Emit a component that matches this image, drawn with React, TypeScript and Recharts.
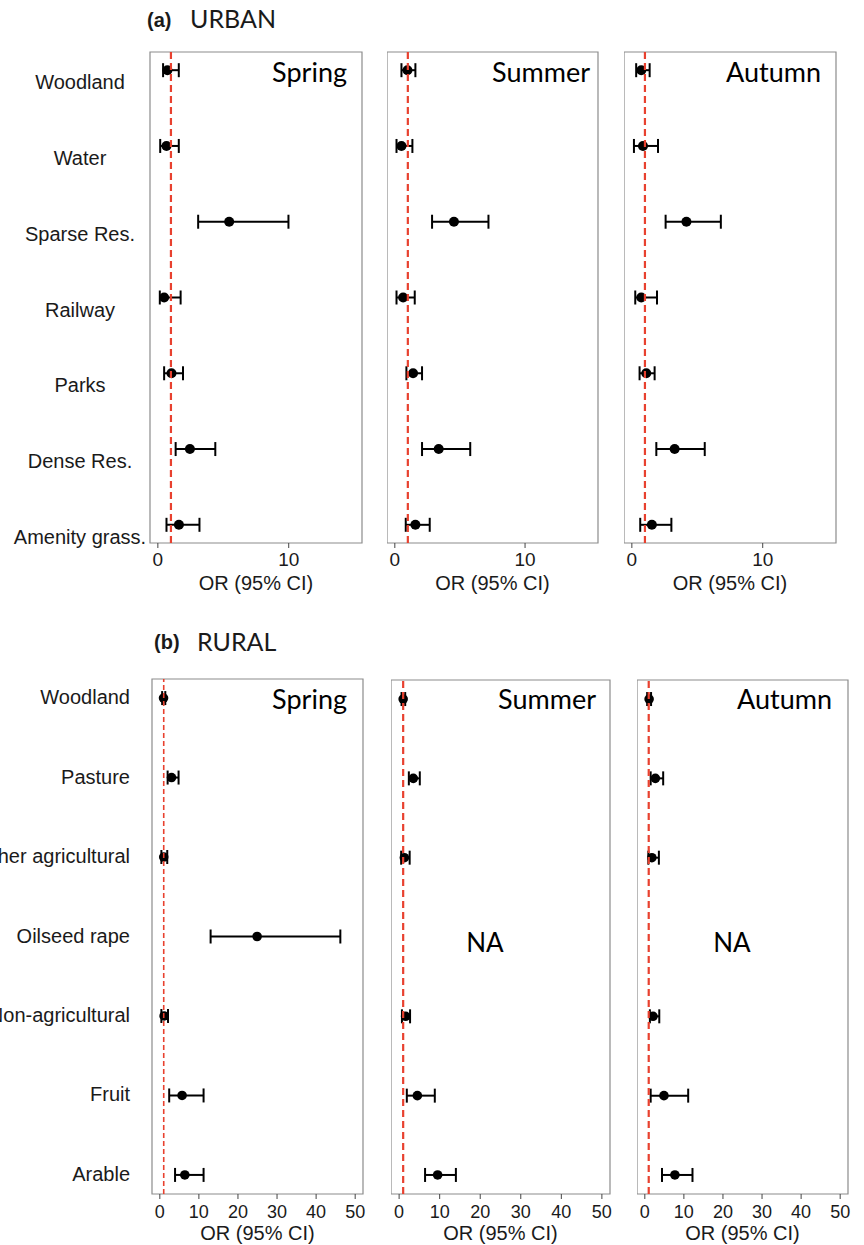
import React from 'react';
import { ScatterChart, Scatter, XAxis, YAxis, ErrorBar, ReferenceLine, ReferenceArea } from 'recharts';

// ---------- DATA ----------
const urbanCategories = ['Woodland', 'Water', 'Sparse Res.', 'Railway', 'Parks', 'Dense Res.', 'Amenity grass.'];
const ruralCategories = ['Woodland', 'Pasture', 'Other agricultural', 'Oilseed rape', 'Non-agricultural', 'Fruit', 'Arable'];
const seasons = ['Spring', 'Summer', 'Autumn'];

const urbanXTicks = [0, 10];
const ruralXTicks = [0, 10, 20, 30, 40, 50];

const urbanSpringOR = [0.73, 0.66, 5.45, 0.48, 1.04, 2.45, 1.61];
const urbanSpringLower = [0.4, 0.18, 3.08, 0.15, 0.48, 1.36, 0.66];
const urbanSpringUpper = [1.6, 1.6, 9.98, 1.74, 1.92, 4.39, 3.18];

const urbanSummerOR = [0.97, 0.51, 4.54, 0.64, 1.4, 3.37, 1.58];
const urbanSummerLower = [0.51, 0.13, 2.86, 0.13, 0.89, 2.09, 0.84];
const urbanSummerUpper = [1.58, 1.35, 7.19, 1.53, 2.09, 5.79, 2.68];

const urbanAutumnOR = [0.72, 0.85, 4.17, 0.72, 1.1, 3.27, 1.53];
const urbanAutumnLower = [0.33, 0.16, 2.58, 0.26, 0.59, 1.87, 0.64];
const urbanAutumnUpper = [1.36, 2.0, 6.8, 1.92, 1.74, 5.57, 3.02];

const ruralSpringOR = [0.95, 3.0, 1.0, 24.9, 1.1, 5.7, 6.4];
const ruralSpringLower = [0.6, 2.0, 0.4, 13.0, 0.4, 2.4, 3.9];
const ruralSpringUpper = [1.4, 4.8, 1.9, 46.2, 2.1, 11.2, 11.2];

const ruralSummerOR = [1.0, 3.5, 1.3, null, 1.6, 4.5, 9.5];
const ruralSummerLower = [0.6, 2.4, 0.5, null, 0.7, 1.9, 6.4];
const ruralSummerUpper = [1.5, 5.1, 2.6, null, 2.7, 8.8, 14.0];

const ruralAutumnOR = [1.1, 2.7, 1.8, null, 2.1, 4.9, 7.7];
const ruralAutumnLower = [0.6, 1.5, 0.9, null, 1.3, 1.5, 4.4];
const ruralAutumnUpper = [1.6, 4.7, 3.6, null, 3.7, 11.1, 12.2];

// ---------- HELPERS ----------
const FONT = 'Liberation Sans, Arial, Helvetica, sans-serif';
const SEASON_FONT = 'Lato, "Open Sans", sans-serif';
const RED = '#e8412f';
const BOX = '#8c8c8c';
const Y_DOMAIN: [number, number] = [0.76, 7.24];
const ROW_TICKS = [1, 2, 3, 4, 5, 6, 7];

function buildRows(or: (number | null)[], lo: (number | null)[], hi: (number | null)[]) {
  const out: any[] = [];
  or.forEach((v, i) => {
    if (v == null) return;
    out.push({ row: i + 1, or: v, err: [v - (lo[i] as number), (hi[i] as number) - v] });
  });
  return out;
}

type Box = { left: number; right: number; top: number; bottom: number };

function Panel(props: {
  box: Box;
  domainX: [number, number];
  ticks: number[];
  data: any[];
  categories: string[];
  labelMode: 'center' | 'end' | null;
  refWidth: number;
  dash: string;
  tickFont: number;
  tickMargin: number;
  labelOffset: number;
  dotR: number;
}) {
  const { box, domainX, ticks, data, categories, labelMode, refWidth, dash, tickFont, tickMargin, labelOffset, dotR } = props;
  const yW = labelMode ? box.left : 0;
  const mt = 10;
  const mr = 10;
  const xH = 60;
  const chartLeft = box.left - yW;
  const width = yW + (box.right - box.left) + mr;
  const height = mt + (box.bottom - box.top) + xH;

  const renderYTick = (p: any) => {
    const name = categories[p.payload.value - 1];
    if (labelMode === 'center') {
      return (
        <text x={80 - chartLeft} y={p.y + 12} textAnchor="middle" dominantBaseline="central" fontSize={20} fontFamily={FONT} fill="#1a1a1a">
          {name}
        </text>
      );
    }
    return (
      <text x={130 - chartLeft} y={p.y - 1} textAnchor="end" dominantBaseline="central" fontSize={20} fontFamily={FONT} fill="#1a1a1a">
        {name}
      </text>
    );
  };

  const renderDot = (p: any) => <circle cx={p.cx} cy={p.cy} r={dotR} fill="#000" />;

  return (
    <div style={{ position: 'absolute', left: chartLeft, top: box.top - mt }}>
      <ScatterChart width={width} height={height} margin={{ top: mt, right: mr, left: 0, bottom: 0 }}>
        <XAxis
          type="number"
          dataKey="or"
          domain={domainX}
          ticks={ticks}
          interval={0}
          allowDataOverflow
          axisLine={false}
          tickLine={{ stroke: '#444' }}
          tickSize={5}
          tickMargin={tickMargin}
          height={xH}
          tick={{ fill: '#1a1a1a', fontSize: tickFont, fontFamily: FONT }}
          label={{ value: 'OR (95% CI)', position: 'insideBottom', offset: labelOffset, fontSize: 20, fontFamily: FONT, fill: '#1a1a1a' }}
        />
        <YAxis
          type="number"
          dataKey="row"
          domain={Y_DOMAIN}
          reversed
          ticks={ROW_TICKS}
          interval={0}
          allowDataOverflow
          width={yW}
          hide={!labelMode}
          axisLine={false}
          tickLine={false}
          tick={renderYTick}
        />
        <ReferenceArea
          x1={domainX[0]}
          x2={domainX[1]}
          y1={Y_DOMAIN[0]}
          y2={Y_DOMAIN[1]}
          fill="none"
          fillOpacity={0}
          stroke={BOX}
          strokeWidth={1.2}
          ifOverflow="visible"
        />
        <Scatter data={data} isAnimationActive={false} shape={renderDot}>
          <ErrorBar dataKey="err" direction="x" width={7} strokeWidth={2} stroke="#000" />
        </Scatter>
        <ReferenceLine x={1} stroke={RED} strokeWidth={refWidth} strokeDasharray={dash} ifOverflow="visible" zIndex={1000} />
      </ScatterChart>
    </div>
  );
}

const urbanBoxes: Box[] = [
  { left: 150, right: 362, top: 52, bottom: 543 },
  { left: 387, right: 598, top: 52, bottom: 543 },
  { left: 624, right: 836, top: 52, bottom: 543 },
];
const ruralBoxes: Box[] = [
  { left: 152, right: 363, top: 679, bottom: 1194 },
  { left: 391, right: 610, top: 680, bottom: 1194 },
  { left: 637, right: 848, top: 680, bottom: 1194 },
];

const urbanSeasonEnds = [347, 590, 821];
const ruralSeasonEnds = [347, 596, 832];

export default function App() {
  const urbanData = [
    buildRows(urbanSpringOR, urbanSpringLower, urbanSpringUpper),
    buildRows(urbanSummerOR, urbanSummerLower, urbanSummerUpper),
    buildRows(urbanAutumnOR, urbanAutumnLower, urbanAutumnUpper),
  ];
  const ruralData = [
    buildRows(ruralSpringOR, ruralSpringLower, ruralSpringUpper),
    buildRows(ruralSummerOR, ruralSummerLower, ruralSummerUpper),
    buildRows(ruralAutumnOR, ruralAutumnLower, ruralAutumnUpper),
  ];

  return (
    <div style={{ position: 'absolute', left: 0, top: 0, width: 864, height: 1245, overflow: 'hidden', background: '#fff' }}>
      {urbanBoxes.map((b, i) => (
        <Panel
          key={'u' + i}
          box={b}
          domainX={[-0.6, 15.6]}
          ticks={urbanXTicks}
          data={urbanData[i]}
          categories={urbanCategories}
          labelMode={i === 0 ? 'center' : null}
          refWidth={2.2}
          dash="7 4"
          tickFont={19}
          tickMargin={5}
          labelOffset={13}
          dotR={5}
        />
      ))}
      {ruralBoxes.map((b, i) => (
        <Panel
          key={'r' + i}
          box={b}
          domainX={[-2, 52]}
          ticks={ruralXTicks}
          data={ruralData[i]}
          categories={ruralCategories}
          labelMode={i === 0 ? 'end' : null}
          refWidth={i === 0 ? 1.6 : 2.2}
          dash={i === 0 ? '5 3' : '7 4'}
          tickFont={18}
          tickMargin={6}
          labelOffset={14}
          dotR={4.8}
        />
      ))}
      <svg width={864} height={1245} style={{ position: 'absolute', left: 0, top: 0, pointerEvents: 'none' }}>
        <text x={147} y={27} fontFamily={FONT} fontWeight="bold" fontSize={20} fill="#1a1a1a">(a)</text>
        <text x={190} y={28} fontFamily={SEASON_FONT} fontSize={25} fill="#1a1a1a">URBAN</text>
        <text x={154} y={649} fontFamily={FONT} fontWeight="bold" fontSize={20} fill="#1a1a1a">(b)</text>
        <text x={197} y={651} fontFamily={SEASON_FONT} fontSize={25} fill="#1a1a1a">RURAL</text>
        {seasons.map((s, i) => (
          <text key={'us' + i} x={urbanSeasonEnds[i]} y={82} textAnchor="end" fontFamily={SEASON_FONT} fontSize={27} fill="#000">{s}</text>
        ))}
        {seasons.map((s, i) => (
          <text key={'rs' + i} x={ruralSeasonEnds[i]} y={709} textAnchor="end" fontFamily={SEASON_FONT} fontSize={27} fill="#000">{s}</text>
        ))}
        <text x={485} y={952} textAnchor="middle" fontFamily={SEASON_FONT} fontSize={26} fill="#000">NA</text>
        <text x={732} y={952} textAnchor="middle" fontFamily={SEASON_FONT} fontSize={26} fill="#000">NA</text>
      </svg>
    </div>
  );
}
